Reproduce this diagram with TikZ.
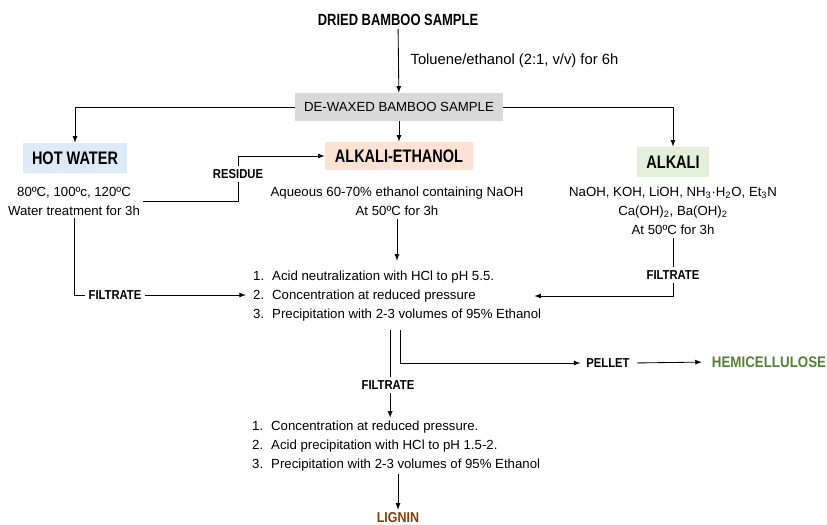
\documentclass[tikz,border=0pt]{standalone}
\usepackage{fontspec}
\setmainfont{Liberation Sans}
\newfontfamily\narrowfont[FakeStretch=0.87]{Liberation Sans}
\newfontfamily\titlefont[FakeStretch=0.8]{Liberation Sans}
\usepackage{tikz}
\usetikzlibrary{arrows, positioning}

\definecolor{grisbox}{HTML}{D9D9D9}
\definecolor{bleubox}{HTML}{DEEBF7}
\definecolor{rosebox}{HTML}{FBE2D5}
\definecolor{vertbox}{HTML}{E2F0D9}
\definecolor{verthemi}{HTML}{548235}
\definecolor{brunlig}{HTML}{843C0C}

\newcommand\regfont{\fontsize{9.4}{13.45}\selectfont}
\newcommand\lblfont{\narrowfont\bfseries\fontsize{9.2}{11}\selectfont}
\newcommand\titrefont{\titlefont\bfseries\fontsize{12.9}{15}\selectfont}

\begin{document}
\begin{tikzpicture}[x=0.025cm, y=-0.025cm, >=latex, line width=0.6pt,
		txt/.style={font=\regfont, align=center, inner sep=2pt},
		lbl/.style={font=\lblfont, inner sep=2pt},
		titre/.style={font=\titrefont, inner sep=0pt},
		liste/.style={font=\regfont, align=left, anchor=west, inner sep=2pt}]
		\useasboundingbox (0,0) rectangle (827,525);
		
		% --- Echantillon de depart ---
		\node[lbl, font=\titlefont\bfseries\fontsize{11.5}{13}\selectfont] (dried) at (398,20) {DRIED BAMBOO SAMPLE};
		\node[rectangle, fill=grisbox, minimum width=5.2cm, minimum height=0.7cm, font=\regfont] (dewax) at (399,107) {DE-WAXED BAMBOO SAMPLE};
		\draw[->] (dried) -- node[right, font=\fontsize{10.5}{12}\selectfont, xshift=5pt] {Toluene/ethanol (2:1, v/v) for 6h} (dewax);
		
		% --- Trois traitements ---
		\node[titre, rectangle, fill=bleubox, minimum width=2.6cm, minimum height=0.75cm] (hotw) at (75,158) {HOT WATER};
		\node[titre, rectangle, fill=rosebox, minimum width=3.7cm, minimum height=0.7cm] (alket) at (399,156) {ALKALI-ETHANOL};
		\node[titre, rectangle, fill=vertbox, minimum width=1.8cm, minimum height=0.75cm] (alk) at (673,162) {ALKALI};
		
		\draw[->] (dewax.west) -| (hotw.north);
		\draw[->] (dewax.south) -- (alket.north);
		\draw[->] (dewax.east) -| (alk.north);
		
		% --- Conditions ---
		\node[txt] (hottxt) at (74,201) {80ºC, 100ºc, 120ºC\\Water treatment for 3h};
		\node[txt] (alkettxt) at (397,201) {Aqueous 60-70\% ethanol containing NaOH\\At 50ºC for 3h};
		\node[txt] (alktxt) at (673,211) {NaOH, KOH, LiOH, NH\textsubscript{3}·H\textsubscript{2}O, Et\textsubscript{3}N\\Ca(OH)\textsubscript{2}, Ba(OH)\textsubscript{2}\\At 50ºC for 3h};
		
		% --- Residu vers alkali-ethanol ---
		\node[lbl] (residue) at (238,174) {RESIDUE};
		\draw (hottxt.east) -| (residue.south);
		\draw[->] (residue.north) |- (alket.west);
		
		% --- Premiere etape de precipitation ---
		\node[liste] (list1) at (250,296) {1.\hspace{0.6em}Acid neutralization with HCl to pH 5.5.\\2.\hspace{0.6em}Concentration at reduced pressure\\3.\hspace{0.6em}Precipitation with 2-3 volumes of 95\% Ethanol};
		\draw[->] (alkettxt.south) -- ([yshift=5pt]alkettxt.south |- list1.north);
		
		\node[lbl] (filtL) at (115,295) {FILTRATE};
		\draw (hottxt.south) |- (filtL.west);
		\draw[->, shorten >=3pt] (filtL.east) -- (filtL.east -| list1.west);
		
		\node[lbl] (filtR) at (673,275) {FILTRATE};
		\draw (alktxt.south) -- (filtR.north);
		\draw[->, shorten >=-7pt] (filtR.south) |- (list1.east);
		
		% --- Separation filtrat / culot ---
		\node[lbl] (filtC) at (388,385) {FILTRATE};
		\node[lbl] (pellet) at (608,363) {PELLET};
		\node[lbl, font=\narrowfont\bfseries\fontsize{10.9}{13}\selectfont, text=verthemi] (hemi) at (769,362) {HEMICELLULOSE};
		\draw[shorten <=4pt] ([xshift=1.5pt]filtC.north |- list1.south) -- ([xshift=1.5pt]filtC.north);
		\draw[->, shorten <=4pt, shorten >=2pt] ([xshift=8.5pt]filtC.north |- list1.south) |- (pellet.west);
		\draw[->, shorten <=3pt, shorten >=5pt] (pellet.east) -- (hemi.west);
		
		% --- Deuxieme etape : lignine ---
		\node[liste] (list2) at (249,446) {1.\hspace{0.6em}Concentration at reduced pressure.\\2.\hspace{0.6em}Acid precipitation with HCl to pH 1.5-2.\\3.\hspace{0.6em}Precipitation with 2-3 volumes of 95\% Ethanol};
		\draw[->] ([xshift=1.5pt]filtC.south) -- ([xshift=1.5pt]filtC.south |- list2.north);
		\node[lbl, font=\narrowfont\bfseries\fontsize{10.2}{12}\selectfont, text=brunlig] (lignin) at (398,518) {LIGNIN};
		\draw[->] (lignin.north |- list2.south) -- (lignin.north);
		
	\end{tikzpicture}
\end{document}
